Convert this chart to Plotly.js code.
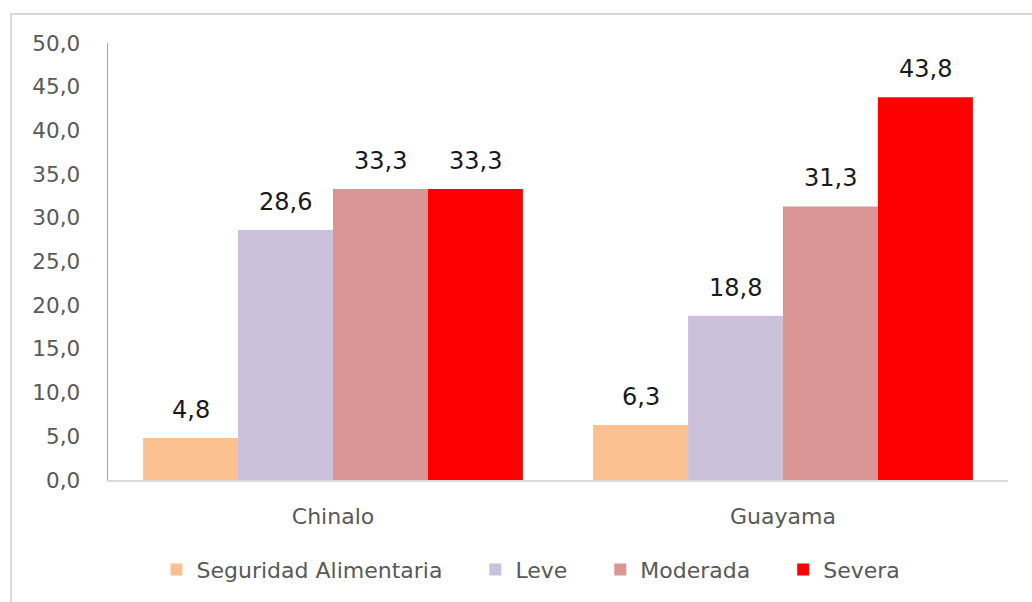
<!DOCTYPE html>
<html><head><meta charset="utf-8">
<script src="https://cdn.plot.ly/plotly-3.0.1.min.js"></script>
<style>
html,body{margin:0;padding:0;background:#fff;overflow:hidden;}
#frame{position:absolute;left:10px;top:13px;width:1040px;height:620px;border:2px solid #d9d9d9;box-sizing:border-box;}
#chart{position:absolute;left:0;top:0;width:1032px;height:602px;}
</style></head>
<body>
<div id="frame"></div>
<div id="chart"></div>
<script>
const categories = ["Chinalo", "Guayama"];
const seriesNames = ["Seguridad Alimentaria", "Leve", "Moderada", "Severa"];
const seguridad = [4.8, 6.3];
const leve = [28.6, 18.8];
const moderada = [33.3, 31.3];
const severa = [33.3, 43.8];
const colors = ["#FAC090", "#CCC1DA", "#D99694", "#FF0000"];
const allValues = [seguridad, leve, moderada, severa];

const font = "DejaVu Sans, Verdana, sans-serif";
const pad = "\u00a0\u00a0\u00a0\u00a0";
const traces = allValues.map((vals, i) => ({
  type: "bar",
  name: seriesNames[i] + (i < seriesNames.length - 1 ? pad : ""),
  x: categories,
  y: vals,
  marker: {color: colors[i]},
  hoverinfo: "skip"
}));

const bargap = 0.156;
const offsets = [-1.5, -0.5, 0.5, 1.5];
const groupWidth = 1 - bargap;
const annotations = [];
allValues.forEach((vals, i) => {
  vals.forEach((v, j) => {
    annotations.push({
      x: j + offsets[i] * groupWidth / 4,
      y: v,
      xref: "x", yref: "y",
      text: v.toFixed(1).replace(".", ","),
      showarrow: false,
      yanchor: "bottom",
      yshift: 12,
      font: {family: font, size: 24, color: "#1a1a1a"}
    });
  });
});

const layout = {
  width: 1032, height: 602,
  margin: {l: 108, r: 24, t: 43, b: 118},
  paper_bgcolor: "rgba(0,0,0,0)",
  plot_bgcolor: "rgba(0,0,0,0)",
  separators: ",.",
  barmode: "group",
  bargap: bargap,
  bargroupgap: 0,
  showlegend: true,
  legend: {
    orientation: "h", x: 0.47, xanchor: "center", y: -0.205, yanchor: "middle",
    font: {family: font, size: 22, color: "#595959"},
    itemwidth: 30, tracegroupgap: 0, bgcolor: "rgba(0,0,0,0)"
  },
  xaxis: {
    type: "category",
    showline: true, linecolor: "#d9d9d9", linewidth: 1.5,
    ticks: "", showgrid: false, zeroline: false,
    tickfont: {family: font, size: 22, color: "#595959"},
    ticklabelstandoff: 16
  },
  yaxis: {
    range: [0, 50], dtick: 5, tick0: 0, tickformat: ".1f",
    showline: true, linecolor: "#a6a6a6", linewidth: 1.5,
    ticks: "", showgrid: false, zeroline: false,
    tickfont: {family: font, size: 21.5, color: "#595959"},
    ticklabelstandoff: 22
  },
  annotations: annotations
};

Plotly.newPlot("chart", traces, layout, {staticPlot: true, displayModeBar: false});
</script>
</body></html>
